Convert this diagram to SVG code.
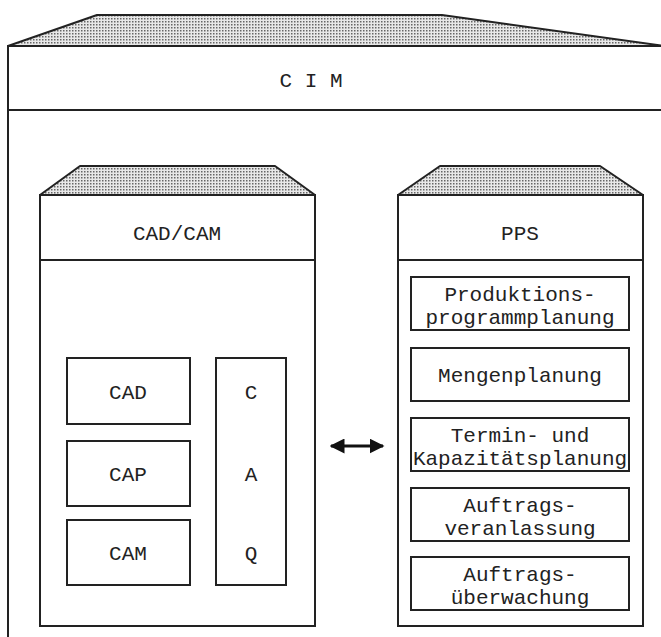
<svg xmlns="http://www.w3.org/2000/svg" width="661" height="637" viewBox="0 0 661 637">
<defs>
<pattern id="dots" width="3" height="3" patternUnits="userSpaceOnUse">
<rect width="3" height="3" fill="#e8e8e8"/>
<rect width="1.5" height="1.5" fill="#666"/>
</pattern>
<marker id="ah" viewBox="0 0 10 10" refX="9" refY="5" markerWidth="5" markerHeight="5" orient="auto-start-reverse" markerUnits="strokeWidth">
<path d="M0,0 L10,5 L0,10 Z" fill="#111"/>
</marker>
</defs>
<style>
.ln{fill:none;stroke:#222;stroke-width:2}
.bx{fill:#fff;stroke:#222;stroke-width:2}
.roof{fill:url(#dots);stroke:#222;stroke-width:2;stroke-linejoin:round}
.t{font-family:"Liberation Mono","DejaVu Sans Mono",monospace;font-size:21px;fill:#222;text-anchor:middle}
</style>
<rect width="661" height="637" fill="#fff"/>
<g id="cim">
<path class="roof" d="M8,46 L97,15 L442,15 L664,46 Z"/>
<rect class="bx" x="8" y="46" width="660" height="600"/>
<line class="ln" x1="8" y1="110" x2="668" y2="110"/>
<text class="t" x="311" y="87">C I M</text>
</g>
<g id="cadcam">
<path class="roof" d="M40,195 L80,166 L275,166 L315,195 Z"/>
<rect class="bx" x="40" y="195" width="275" height="431"/>
<line class="ln" x1="40" y1="260" x2="315" y2="260"/>
<text class="t" x="177" y="240">CAD/CAM</text>
</g>
<g id="cad"><rect class="bx" x="67" y="358" width="123" height="66"/><text class="t" x="128" y="399">CAD</text></g>
<g id="cap"><rect class="bx" x="67" y="441" width="123" height="65"/><text class="t" x="128" y="481">CAP</text></g>
<g id="cam"><rect class="bx" x="67" y="520" width="123" height="65"/><text class="t" x="128" y="560">CAM</text></g>
<g id="caq"><rect class="bx" x="216" y="358" width="70" height="227"/>
<text class="t" x="251" y="399">C</text><text class="t" x="251" y="481">A</text><text class="t" x="251" y="560">Q</text></g>
<g id="pps">
<path class="roof" d="M398,195 L440,166 L600,166 L643,195 Z"/>
<rect class="bx" x="398" y="195" width="245" height="431"/>
<line class="ln" x1="398" y1="260" x2="643" y2="260"/>
<text class="t" x="520" y="240">PPS</text>
</g>
<g id="p1"><rect class="bx" x="411" y="277" width="218" height="53"/><text class="t" x="520" y="301">Produktions-</text><text class="t" x="520" y="324">programmplanung</text></g>
<g id="p2"><rect class="bx" x="411" y="348" width="218" height="53"/><text class="t" x="520" y="382">Mengenplanung</text></g>
<g id="p3"><rect class="bx" x="411" y="418" width="218" height="53"/><text class="t" x="520" y="442">Termin- und</text><text class="t" x="520" y="465">Kapazitätsplanung</text></g>
<g id="p4"><rect class="bx" x="411" y="488" width="218" height="53"/><text class="t" x="520" y="512">Auftrags-</text><text class="t" x="520" y="535">veranlassung</text></g>
<g id="p5"><rect class="bx" x="411" y="557" width="218" height="53"/><text class="t" x="520" y="581">Auftrags-</text><text class="t" x="520" y="604">überwachung</text></g>
<g id="connectors">
<line x1="331" y1="446" x2="383" y2="446" stroke="#111" stroke-width="3" marker-start="url(#ah)" marker-end="url(#ah)"/>
</g>
</svg>
